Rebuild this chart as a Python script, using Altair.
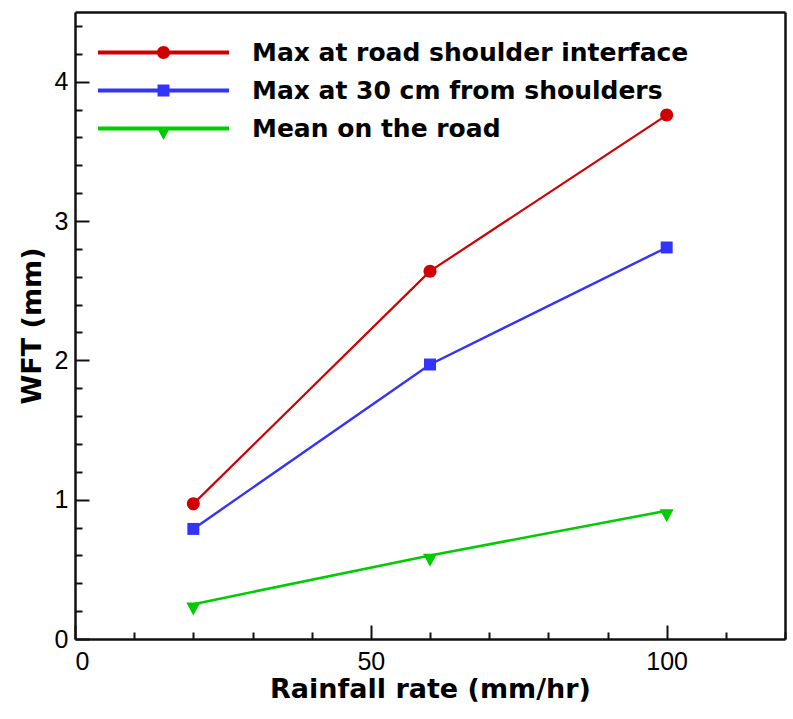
import altair as alt
import pandas as pd

rainfall = [20, 60, 100]
series_names = ["Max at road shoulder interface", "Max at 30  cm from shoulders", "Mean on the road"]
red_vals = [0.97, 2.64, 3.76]
blue_vals = [0.79, 1.97, 2.81]
green_vals = [0.25, 0.60, 0.92]
colors = ["#d00000", "#3333ff", "#00cc00"]

x_major = [0, 50, 100]
x_ticks = [0, 10, 20, 30, 40, 50, 60, 70, 80, 90, 100, 110, 120]
y_major = [0, 1, 2, 3, 4]
y_ticks = [round(0.2 * i, 1) for i in range(23)]

rows = []
for name, vals in zip(series_names, [red_vals, blue_vals, green_vals]):
    for xv, yv in zip(rainfall, vals):
        rows.append({"rate": xv, "wft": yv, "series": name})
df = pd.DataFrame(rows)

W, H = 710, 627
FRAME = "#111"

point_paths = [
    "M1,0A1,1 0 1,1 -1,0A1,1 0 1,1 1,0Z",
    "M-0.92,-0.92H0.92V0.92H-0.92Z",
    "M-1.08,-0.25H1.08L0,1.75Z",
]
bar = "M-10.08,-0.3H10.08V0.3H-10.08Z "
legend_paths = [bar + p for p in point_paths]

xs = alt.Scale(domain=[0, 120], nice=False, zero=False)
ys = alt.Scale(domain=[0, 4.5], nice=False, zero=False)

base = alt.Chart(df)

lines = base.mark_line().encode(
    x=alt.X("rate:Q", scale=xs, title="Rainfall rate (mm/hr)",
            axis=alt.Axis(values=x_major, ticks=False, domain=True, domainColor=FRAME, domainWidth=2.5,
                          grid=False,
                          labelFont="Liberation Sans", labelFontSize=25, labelColor="#000",
                          labelPadding=10, titleFont="DejaVu Sans", titleFontSize=27,
                          titleFontWeight="bold", titleColor="#000", titlePadding=2)),
    y=alt.Y("wft:Q", scale=ys, title="WFT (mm)",
            axis=alt.Axis(values=y_major, ticks=False, domain=True, domainColor=FRAME, domainWidth=2.5,
                          grid=False,
                          labelFont="Liberation Sans", labelFontSize=25, labelColor="#000",
                          labelPadding=7, titleFont="DejaVu Sans", titleFontSize=27,
                          titleFontWeight="bold", titleColor="#000", titlePadding=8)),
    color=alt.Color("series:N", scale=alt.Scale(domain=series_names, range=colors), legend=None),
    strokeWidth=alt.StrokeWidth("series:N", scale=alt.Scale(domain=series_names, range=[2.2, 2.6, 3.5]), legend=None),
)

points = base.mark_point(filled=True, opacity=1, strokeWidth=0).encode(
    x=alt.X("rate:Q", scale=xs, axis=None),
    y=alt.Y("wft:Q", scale=ys, axis=None),
    color=alt.Color("series:N", scale=alt.Scale(domain=series_names, range=colors), legend=None),
    shape=alt.Shape("series:N", scale=alt.Scale(domain=series_names, range=point_paths), legend=None),
    size=alt.value(169),
)

leg = alt.Legend(orient="none", legendX=76, legendY=28, title=None, padding=0,
                 labelFont="DejaVu Sans", labelFontSize=25, labelFontWeight="bold",
                 labelColor="#000", labelOffset=76, rowPadding=12, symbolSize=169,
                 symbolOpacity=1, symbolStrokeWidth=0, labelLimit=600)

legend_layer = base.mark_point(filled=True, opacity=0).encode(
    x=alt.X("rate:Q", scale=xs, axis=None),
    y=alt.Y("wft:Q", scale=ys, axis=None),
    color=alt.Color("series:N", scale=alt.Scale(domain=series_names, range=colors), legend=leg),
    shape=alt.Shape("series:N", scale=alt.Scale(domain=series_names, range=legend_paths), legend=leg),
)

tick_cond_x = {"condition": {"test": "datum.value % 50 == 0", "value": 14}, "value": 7}
tick_cond_y = {"condition": {"test": "abs(datum.value - round(datum.value)) < 0.01", "value": 14}, "value": 7}

ticks_layer = base.mark_point(opacity=0).encode(
    x=alt.X("rate:Q", scale=xs,
            axis=alt.Axis(orient="top", offset=-H, values=x_ticks, labels=False, domain=False,
                          grid=False, title=None, tickColor=FRAME, tickWidth=2, tickSize=tick_cond_x)),
    y=alt.Y("wft:Q", scale=ys,
            axis=alt.Axis(orient="right", offset=-W, values=y_ticks, labels=False, domain=False,
                          grid=False, title=None, tickColor=FRAME, tickWidth=2, tickSize=tick_cond_y)),
)

frame_layer = base.mark_point(opacity=0).encode(
    x=alt.X("rate:Q", scale=xs,
            axis=alt.Axis(orient="top", values=[], labels=False, ticks=False, domain=True,
                          domainColor=FRAME, domainWidth=2.5, grid=False, title=None)),
    y=alt.Y("wft:Q", scale=ys,
            axis=alt.Axis(orient="right", values=[], labels=False, ticks=False, domain=True,
                          domainColor=FRAME, domainWidth=2.5, grid=False, title=None)),
)

chart = alt.layer(lines, points, legend_layer, ticks_layer, frame_layer).resolve_scale(
    color="independent", shape="independent"
).resolve_axis(x="independent", y="independent").properties(
    width=W, height=H,
    autosize=alt.AutoSizeParams(type="none"),
    padding={"left": 75, "top": 12, "right": 8, "bottom": 80},
).configure_view(stroke=None).configure(background="white")

chart.save("out.html", embed_options={"renderer": "svg", "actions": False})
